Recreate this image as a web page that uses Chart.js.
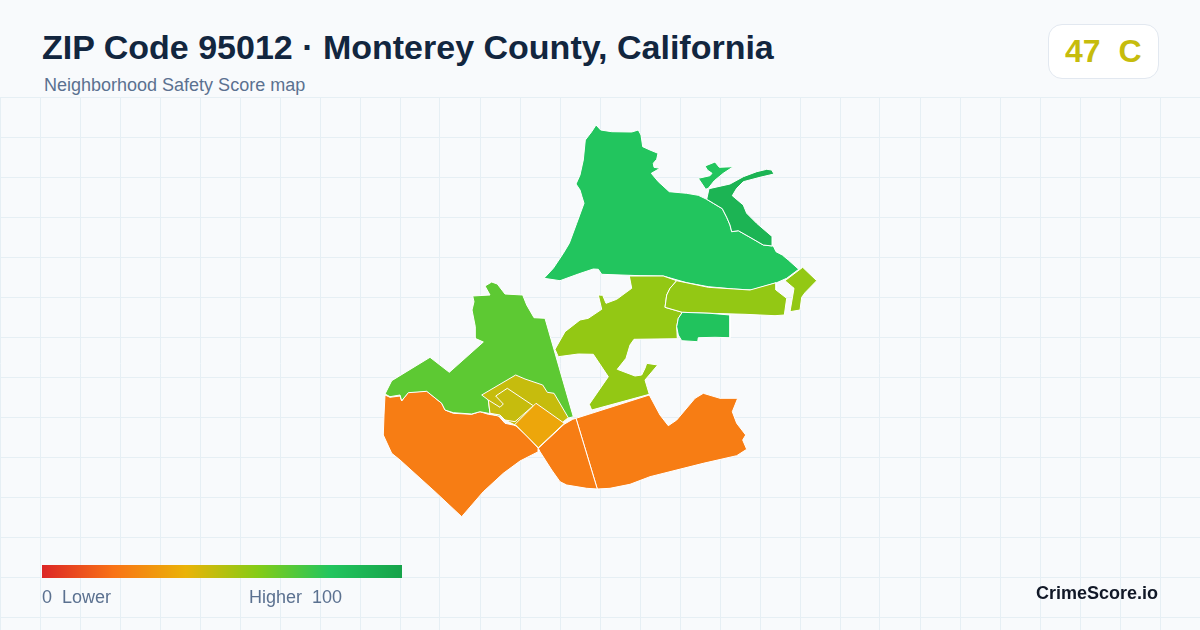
<!DOCTYPE html>
<html>
<head>
<meta charset="utf-8">
<title>ZIP Code 95012</title>
<script src="https://cdn.jsdelivr.net/npm/chart.js@4/dist/chart.umd.min.js"></script>
<style>
    html, body { margin: 0; padding: 0; }
    body {
        width: 1200px; height: 630px; position: relative; overflow: hidden;
        background: #f8fafc; font-family: "Liberation Sans", Arial, sans-serif;
    }
    #mapWrap { position: absolute; left: 0; top: 97px; width: 1200px; height: 533px; }
    .label { position: absolute; white-space: pre; line-height: 1; }
    #title { left: 42px; top: 30px; font-size: 34px; font-weight: bold; color: #12263f; }
    #subtitle { left: 44px; top: 76px; font-size: 18px; color: #5b7190; }
    #badge {
        position: absolute; left: 1048px; top: 24px; width: 109px; height: 53px;
        background: #fff; border: 1px solid #e2e8f0; border-radius: 14px;
    }
    #badgeText { left: 1065px; top: 35px; font-size: 32px; font-weight: bold; }
    #scaleBar { position: absolute; left: 42px; top: 565px; width: 360px; height: 13px; }
    #lowLabel { left: 42px; top: 588px; font-size: 18px; color: #5b7190; }
    #highLabel { left: 249px; top: 588px; font-size: 18px; color: #5b7190; }
    #brand { right: 42px; top: 584px; font-size: 18px; font-weight: bold; color: #111827; }
</style>
</head>
<body>
<div id="mapWrap"><canvas id="map"></canvas></div>
<div class="label" id="title">ZIP Code 95012 · Monterey County, California</div>
<div class="label" id="subtitle">Neighborhood Safety Score map</div>
<div id="badge"></div>
<div class="label" id="badgeText"></div>
<div id="scaleBar"></div>
<div class="label" id="lowLabel">0  Lower</div>
<div class="label" id="highLabel">Higher  100</div>
<div class="label" id="brand">CrimeScore.io</div>
<script>
// Overall score
const zipScore = 47;
const zipGrade = 'C';

// Colour scale
const scaleStops = [0, 20, 40, 60, 80, 100];
const scaleColors = ['#dc2626', '#f97316', '#eab308', '#84cc16', '#22c55e', '#16a34a'];

// Background grid
const gridRows = [97, 137, 177, 217, 257, 297, 337, 377, 417, 457, 497, 537, 577, 617];

// Neighborhood outlines, map units
const northArea = [[596,125],[600.7,130],[611.7,131.7],[631.7,132],[638.3,130],[641,135],[642.7,146.7],[650,150],[658,153.3],[656.7,159.3],[653.3,163.3],[654,167.3],[660,168.3],[651.3,173.3],[658.3,181.7],[669.3,191.7],[686.7,193.3],[698.3,195.3],[706.7,199.3],[713.3,203.3],[722.3,208.7],[726.7,217.3],[730,225],[731.7,231.7],[738.3,230.7],[750,237.3],[763.3,245],[773.3,246],[776,251.7],[782.3,255],[788.3,260],[798.7,269.3],[786.7,278.3],[776.7,282.7],[751.7,290],[733.3,289],[708.3,286.7],[686.7,282.7],[663.3,276],[640,275.7],[601.7,274.3],[598.3,269.3],[593.3,269],[578.3,274],[560,280.7],[544,278.3],[553.3,268.3],[563.3,253.3],[569.3,243.3],[576.7,223.3],[584,203.3],[582,196.7],[580,190],[576,184],[580,175],[583.3,160],[585.3,140],[591.7,131.7]];
const northIslet = [[705,166],[715,162],[719.3,167.3],[733.3,166.7],[723.3,173.3],[714.3,180.7],[708.3,188.3],[705.7,189.3],[698.3,178.3],[710,175.7],[712,173.3],[707.3,170]];
const northeastArea = [[709,188.7],[730,184],[743.3,176.7],[756.7,171.7],[766.7,169.3],[771.7,170],[774,174],[760,177.3],[743.3,181.7],[736.7,188.3],[732.3,195.7],[743.3,205],[746.7,213.3],[756.7,223.3],[772.3,236.7],[772.3,246],[763.3,245],[750,237.3],[738.3,230.7],[731.7,231.7],[730,225],[726.7,217.3],[722.3,208.7],[713.3,203.3],[706.7,199.3]];
const eastTip = [[802.7,267.3],[816.7,280.7],[805,292.7],[801.7,297.3],[800,310],[790,311.7],[794,288.3],[785,280.7]];
const eastBand = [[676.7,280.7],[708.3,287.3],[750,290],[776,282.7],[776,290],[786.7,298.3],[784.3,315],[775,315.7],[745,314.3],[710,313.3],[682.3,312.3],[665,307.3],[666.7,295],[670,288.3]];
const centerArea = [[629.3,276],[663.3,276],[676.7,280.7],[670,288.3],[666.7,295],[665,307.3],[682.3,312.3],[678.3,318.3],[676.7,326.7],[677.3,338.7],[634,339.3],[630,345],[626,358.3],[617.3,369.3],[635,376],[641.7,375],[645,368.3],[646.7,363.3],[657.7,365],[645,380],[649.3,394.3],[591.7,410],[589.3,404.3],[608.3,376.7],[593.3,354.3],[578.3,354],[558.3,356.7],[555,349.3],[565,331.7],[580,320],[588.3,318.3],[601.7,309.3],[598.3,295],[602.7,295.3],[606,303.3],[616.7,299.3],[631.7,288.3]];
const eastBlock = [[682.3,312.3],[710,313.3],[730,315],[730,337.7],[715,337.3],[698.3,337.7],[697.7,341.7],[681.7,340.7],[678.3,335],[676.7,326.7],[678.3,318.3]];
const westArea = [[485,286],[491.7,282],[497.3,284],[505,294],[522.7,295],[526.7,305],[534,317.7],[545,318.3],[573.3,416.7],[536.7,426.7],[488.3,413.3],[480,411.7],[471.7,414],[453.3,412.7],[445,410],[441.7,403.3],[426.7,391.3],[408.3,392.7],[401.7,400.7],[400,395],[390,396.7],[385,394],[391.7,380.7],[430,357.3],[449.3,372.3],[483.3,342],[475,338.3],[475.3,326.7],[472,310],[474,301.7],[472.7,296],[490,295]];
const townOuter = [[481.7,395],[515.7,375],[525,379],[542.7,385],[547.3,392.3],[554,393.3],[568.3,417.7],[563.3,421.7],[538.3,446.7],[515,425],[505,420],[500,415],[490,413.3],[488.3,400]];
const townInner = [[488.3,400],[500,407.3],[503.3,404],[495.7,396],[507.3,388.3],[533.3,405.7],[515,421.7],[505,420],[500,415],[490,413.3]];
const townSouth = [[536,403.3],[564.3,423.3],[538.3,447.7],[515,424.3]];
const southwestArea = [[385,395],[390,397.3],[400,396],[401.7,401],[408.3,392.3],[426.7,391],[441.7,403.3],[445,410],[453.3,413.3],[471.7,414.3],[480,411.7],[488.3,414.3],[498.3,415.7],[505,423.3],[513.3,425],[518.3,426.7],[538.3,448.3],[538.3,451.7],[520,461],[503.3,473.3],[483.3,491.7],[461.7,516.7],[435,491.7],[400,460],[391.7,453.3],[383.3,435],[384,415]];
const southMiddle = [[538.3,448.3],[564,424.3],[572.7,419.3],[576,418.3],[597.3,489],[586.7,488.3],[566.7,485],[560,481.7],[551.7,470],[540,451.7]];
const southeastArea = [[576,418.3],[649.3,395],[660,415],[668.3,425.7],[676.7,420],[695,398.3],[703.3,393.3],[720,398.3],[737.7,398.3],[732.3,411.7],[736.7,423.3],[745.7,435],[742.7,440],[746.7,449.3],[736.7,455.7],[703.3,463.3],[650,476.7],[630,484.3],[610,488.3],[597.3,489]];

// Scores, same order as regions below (first one is drawn on top)
const regions = [townSouth, townInner, townOuter, westArea, southMiddle, southeastArea, southwestArea, eastBlock, eastBand, eastTip, centerArea, northeastArea, northIslet, northArea];
const regionScores = [36, 47, 47, 68, 23, 23, 23, 81, 57, 57, 57, 90, 80, 80];

function hexToRgb(hex) {
    return [1, 3, 5].map(i => parseInt(hex.slice(i, i + 2), 16));
}

function scoreColor(score) {
    let i = 0;
    while (i < scaleStops.length - 2 && score > scaleStops[i + 1]) i++;
    const t = (score - scaleStops[i]) / (scaleStops[i + 1] - scaleStops[i]);
    const a = hexToRgb(scaleColors[i]);
    const b = hexToRgb(scaleColors[i + 1]);
    const rgb = a.map((v, k) => Math.round(v + (b[k] - v) * t));
    return `rgb(${rgb.join(',')})`;
}

document.getElementById('badgeText').textContent = `${zipScore}  ${zipGrade}`;
document.getElementById('badgeText').style.color = scoreColor(zipScore);
document.getElementById('scaleBar').style.background = 'linear-gradient(to right, ' +
    scaleColors.map((c, i) => `${c} ${scaleStops[i]}%`).join(', ') + ')';

const datasets = regions.map((outline, i) => ({
    data: outline.concat([outline[0]]).map(p => ({ x: p[0], y: p[1] })),
    showLine: true,
    fill: 'shape',
    backgroundColor: scoreColor(regionScores[i]),
    borderColor: '#ffffff',
    borderWidth: 1,
    borderJoinStyle: 'round',
    tension: 0,
    pointRadius: 0,
    pointHoverRadius: 0
}));

new Chart(document.getElementById('map'), {
    type: 'scatter',
    data: { datasets },
    options: {
        responsive: true,
        maintainAspectRatio: false,
        animation: false,
        layout: { padding: 0 },
        plugins: {
            legend: { display: false },
            tooltip: { enabled: false }
        },
        scales: {
            x: {
                type: 'linear',
                min: 0,
                max: 1200,
                ticks: { display: false, stepSize: 40 },
                grid: { color: '#e6eff4', lineWidth: 1, drawTicks: false },
                border: { display: false }
            },
            y: {
                type: 'linear',
                reverse: true,
                min: 97,
                max: 630,
                afterBuildTicks: scale => { scale.ticks = gridRows.map(v => ({ value: v })); },
                ticks: { display: false },
                grid: { color: '#e6eff4', lineWidth: 1, drawTicks: false },
                border: { display: false }
            }
        }
    }
});
</script>
</body>
</html>
